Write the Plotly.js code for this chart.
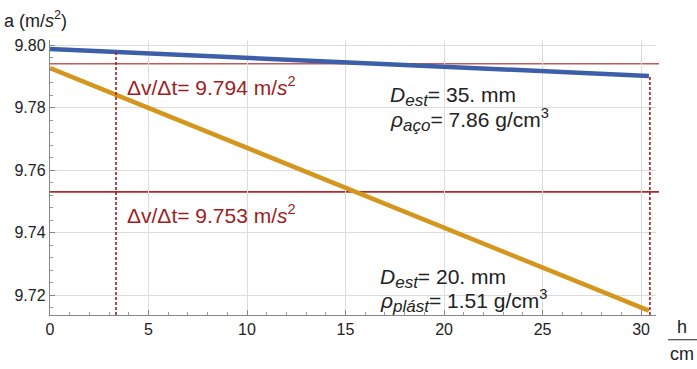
<!DOCTYPE html>
<html><head><meta charset="utf-8">
<script src="https://cdn.plot.ly/plotly-3.0.1.min.js"></script>
<style>html,body{margin:0;padding:0;background:#fff}#c{width:697px;height:369px}</style>
</head><body><div id="c"></div>
<script>
// data
const hSteel = [0, 30.4];
const aSteel = [9.7987, 9.7901];
const hPlastic = [0, 30.4];
const aPlastic = [9.7926, 9.7150];
const refValues = [9.794, 9.753];
const refLabels = ["Δv/Δt= 9.794 m/<i>s</i><sup>2</sup>", "Δv/Δt= 9.753 m/<i>s</i><sup>2</sup>"];
const markH = [3.35, 30.45];
const xTicks = [0, 5, 10, 15, 20, 25, 30];
const yTicks = [9.72, 9.74, 9.76, 9.78, 9.80];
const xRange = [0, 30.76];
const yRange = [9.7136, 9.8016];

function steelAt(h){return aSteel[0] + (aSteel[1]-aSteel[0])*(h-hSteel[0])/(hSteel[1]-hSteel[0]);}

const traces = [
  {x: hSteel, y: aSteel, mode: 'lines', line: {color: '#3d5ea8', width: 4.5}, hoverinfo: 'skip'},
  {x: hPlastic, y: aPlastic, mode: 'lines', line: {color: '#d4961c', width: 4.5}, hoverinfo: 'skip'}
];

const shapes = [];
refValues.forEach((v, i) => {
  shapes.push({type: 'line', xref: 'paper', yref: 'y', x0: 0, x1: 1.005, y0: v, y1: v,
    line: {color: i === 0 ? '#c45a5a' : '#b02a2a', width: i === 0 ? 1.6 : 1.8}, layer: 'below'});
});
markH.forEach(h => {
  shapes.push({type: 'line', xref: 'x', yref: 'y', x0: h, x1: h, y0: yRange[0], y1: steelAt(h),
    line: {color: '#9e1d1d', width: 1.6, dash: '3px,2px'}});
});
shapes.push({type: 'line', xref: 'paper', yref: 'paper', x0: 1.02, x1: 1.072, y0: -0.09, y1: -0.09,
  line: {color: '#222', width: 1}});

const FAM = 'Liberation Sans, Arial, sans-serif';
const tf = {family: FAM, size: 21, color: '#222'};
const rf = {family: FAM, size: 21, color: '#9e1d1d'};
const af = {family: FAM, size: 18, color: '#222'};
const sub = s => '<sub><i><span style="font-size:17px">' + s + '</span></i></sub>';
const annotations = [
  {text: 'a (m/<i>s</i><sup>2</sup>)', xref: 'paper', yref: 'paper', x: -0.08, y: 1.075, xanchor: 'left', yanchor: 'middle', showarrow: false, font: af},
  {text: 'h', xref: 'paper', yref: 'paper', x: 1.043, y: -0.045, xanchor: 'center', yanchor: 'middle', showarrow: false, font: af},
  {text: 'cm', xref: 'paper', yref: 'paper', x: 1.043, y: -0.14, xanchor: 'center', yanchor: 'middle', showarrow: false, font: af},
  {text: refLabels[0], xref: 'paper', yref: 'paper', x: 0.123, y: 0.832, xanchor: 'left', yanchor: 'middle', showarrow: false, font: rf},
  {text: refLabels[1], xref: 'paper', yref: 'paper', x: 0.123, y: 0.367, xanchor: 'left', yanchor: 'middle', showarrow: false, font: rf},
  {text: '<i>D</i>' + sub('est') + '= 35. mm', xref: 'paper', yref: 'paper', x: 0.558, y: 0.795, xanchor: 'left', yanchor: 'middle', showarrow: false, font: tf},
  {text: '<i>ρ</i>' + sub('aço') + '= 7.86 g/cm<sup>3</sup>', xref: 'paper', yref: 'paper', x: 0.558, y: 0.71, xanchor: 'left', yanchor: 'middle', showarrow: false, font: tf},
  {text: '<i>D</i>' + sub('est') + '= 20. mm', xref: 'paper', yref: 'paper', x: 0.541, y: 0.133, xanchor: 'left', yanchor: 'middle', showarrow: false, font: tf},
  {text: '<i>ρ</i>' + sub('plást') + '= 1.51 g/cm<sup>3</sup>', xref: 'paper', yref: 'paper', x: 0.541, y: 0.05, xanchor: 'left', yanchor: 'middle', showarrow: false, font: tf}
];

const layout = {
  width: 697, height: 369,
  margin: {l: 50, r: 41, t: 40, b: 54},
  paper_bgcolor: '#fff', plot_bgcolor: '#fff',
  showlegend: false,
  font: {family: FAM, size: 16, color: '#222'},
  xaxis: {range: xRange, tickvals: xTicks, ticktext: xTicks.map(String), showgrid: true, gridcolor: '#dcdcdc', gridwidth: 1,
    zeroline: false, showline: true, linecolor: '#888', linewidth: 1.2, ticks: 'inside', ticklen: 5, tickcolor: '#888',
    minor: {dtick: 1, ticks: 'inside', ticklen: 3, tickcolor: '#999', showgrid: false},
    tickfont: {size: 16, color: '#222'}},
  yaxis: {range: yRange, tickvals: yTicks, ticktext: yTicks.map(v => v.toFixed(2)), showgrid: true, gridcolor: '#dcdcdc', gridwidth: 1,
    zeroline: false, showline: true, linecolor: '#888', linewidth: 1.2, ticks: 'inside', ticklen: 5, tickcolor: '#888',
    minor: {dtick: 0.004, ticks: 'inside', ticklen: 3, tickcolor: '#999', showgrid: false},
    tickfont: {size: 16, color: '#222'}},
  shapes: shapes,
  annotations: annotations
};

Plotly.newPlot('c', traces, layout, {staticPlot: true, displayModeBar: false});
</script></body></html>
